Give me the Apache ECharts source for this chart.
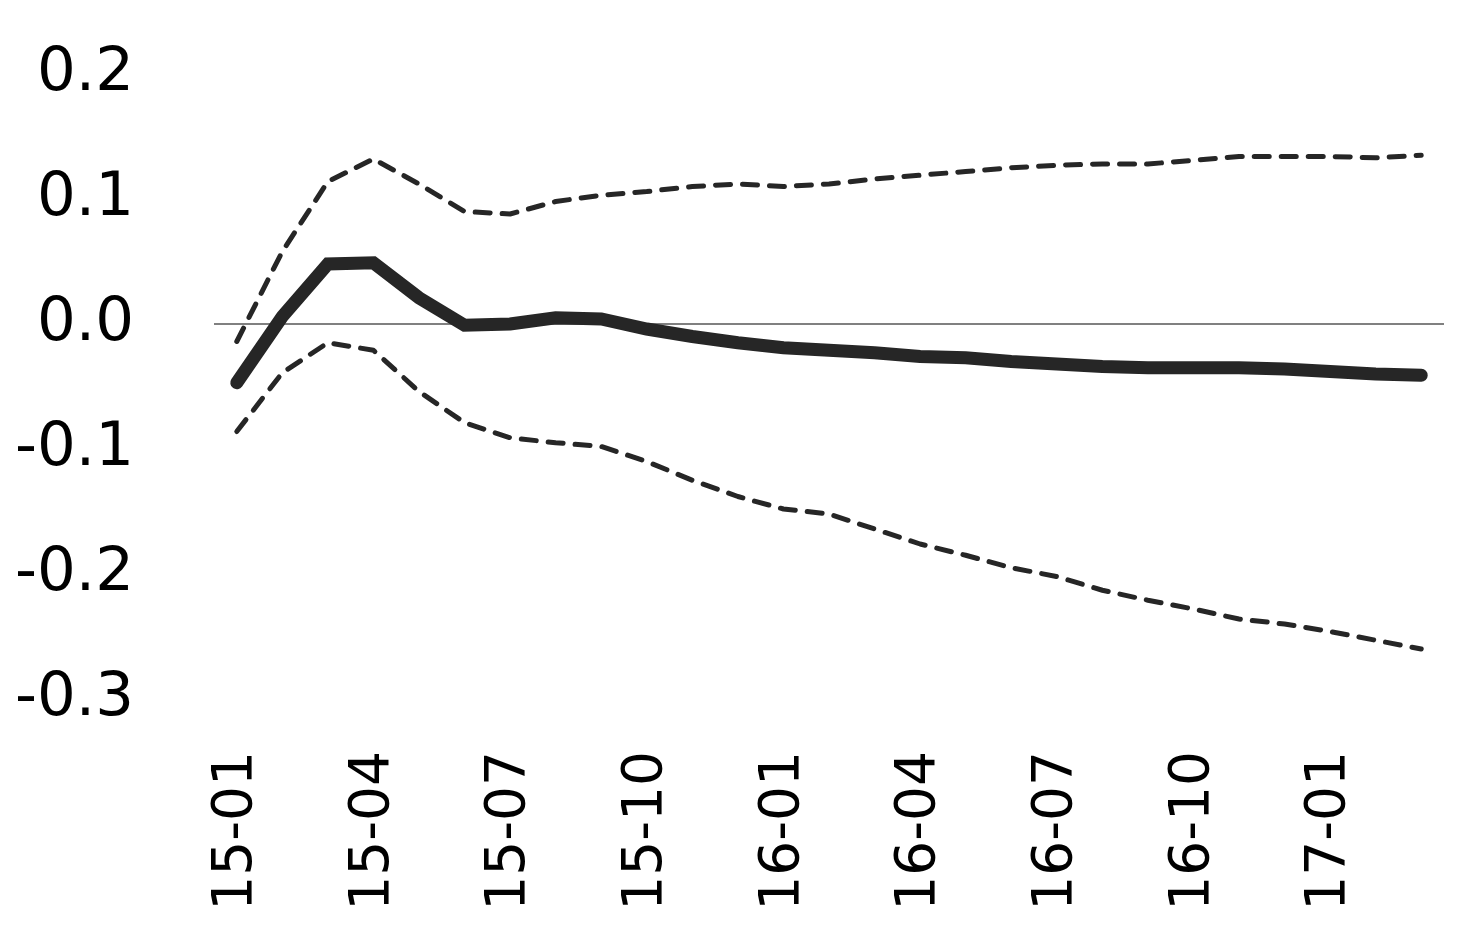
<!DOCTYPE html>
<html>
<head>
<meta charset="utf-8">
<script src="https://cdn.jsdelivr.net/npm/echarts@6/dist/echarts.min.js"></script>
<style>
html,body{margin:0;padding:0;background:#fff;}
#chart{width:1482px;height:948px;}
</style>
</head>
<body>
<div id="chart"></div>
<script>
const categories = ['15-01','15-02','15-03','15-04','15-05','15-06','15-07','15-08','15-09','15-10','15-11','15-12',
  '16-01','16-02','16-03','16-04','16-05','16-06','16-07','16-08','16-09','16-10','16-11','16-12',
  '17-01','17-02','17-03'];
const mainValues = [-0.047,0.006,0.048,0.049,0.021,-0.001,0.000,0.005,0.004,-0.004,-0.010,-0.015,
  -0.019,-0.021,-0.023,-0.026,-0.027,-0.030,-0.032,-0.034,-0.035,-0.035,-0.035,-0.036,-0.038,-0.040,-0.041];
const upperValues = [-0.014,0.058,0.114,0.132,0.112,0.090,0.088,0.098,0.103,0.106,0.110,0.112,
  0.110,0.112,0.116,0.119,0.122,0.125,0.127,0.128,0.128,0.131,0.134,0.134,0.134,0.133,0.135];
const lowerValues = [-0.086,-0.039,-0.015,-0.021,-0.054,-0.079,-0.091,-0.095,-0.098,-0.110,-0.125,-0.138,
  -0.148,-0.152,-0.164,-0.176,-0.185,-0.195,-0.202,-0.213,-0.221,-0.228,-0.236,-0.240,-0.246,-0.253,-0.260];
const yMin = -0.3, yMax = 0.2, yStep = 0.1;

const chart = echarts.init(document.getElementById('chart'), null, {renderer:'canvas'});
const fontFamily = 'DejaVu Sans';
const dark = '#262626';
chart.setOption({
  animation: false,
  backgroundColor: '#ffffff',
  grid: {left: 214, right: 38, top: 74, bottom: 249, containLabel: false},
  xAxis: {
    type: 'category',
    data: categories,
    boundaryGap: true,
    axisLine: {show: false},
    axisTick: {show: false},
    axisLabel: {
      interval: 2,
      rotate: 90,
      margin: 52,
      color: '#000',
      fontFamily: fontFamily,
      fontSize: 55
    },
    splitLine: {show: false}
  },
  yAxis: {
    type: 'value',
    min: yMin, max: yMax, interval: yStep,
    axisLine: {show: false},
    axisTick: {show: false},
    splitLine: {show: false},
    axisLabel: {
      margin: 80,
      color: '#000',
      fontFamily: fontFamily,
      fontSize: 61,
      formatter: v => v.toFixed(1)
    }
  },
  series: [
    {
      type: 'line', data: upperValues, symbol: 'none', z: 3,
      lineStyle: {color: dark, width: 5, type: [15, 12], cap: 'round', join: 'round'}
    },
    {
      type: 'line', data: lowerValues, symbol: 'none', z: 3,
      lineStyle: {color: dark, width: 5, type: [15, 12], cap: 'round', join: 'round'}
    },
    {
      type: 'line', data: mainValues, symbol: 'none', z: 4,
      lineStyle: {color: dark, width: 13, cap: 'round', join: 'miter'},
      markLine: {
        silent: true, symbol: 'none', label: {show: false}, z: 1,
        lineStyle: {color: '#808080', width: 2, type: 'solid'},
        data: [{yAxis: 0}]
      }
    }
  ]
});
</script>
</body>
</html>
